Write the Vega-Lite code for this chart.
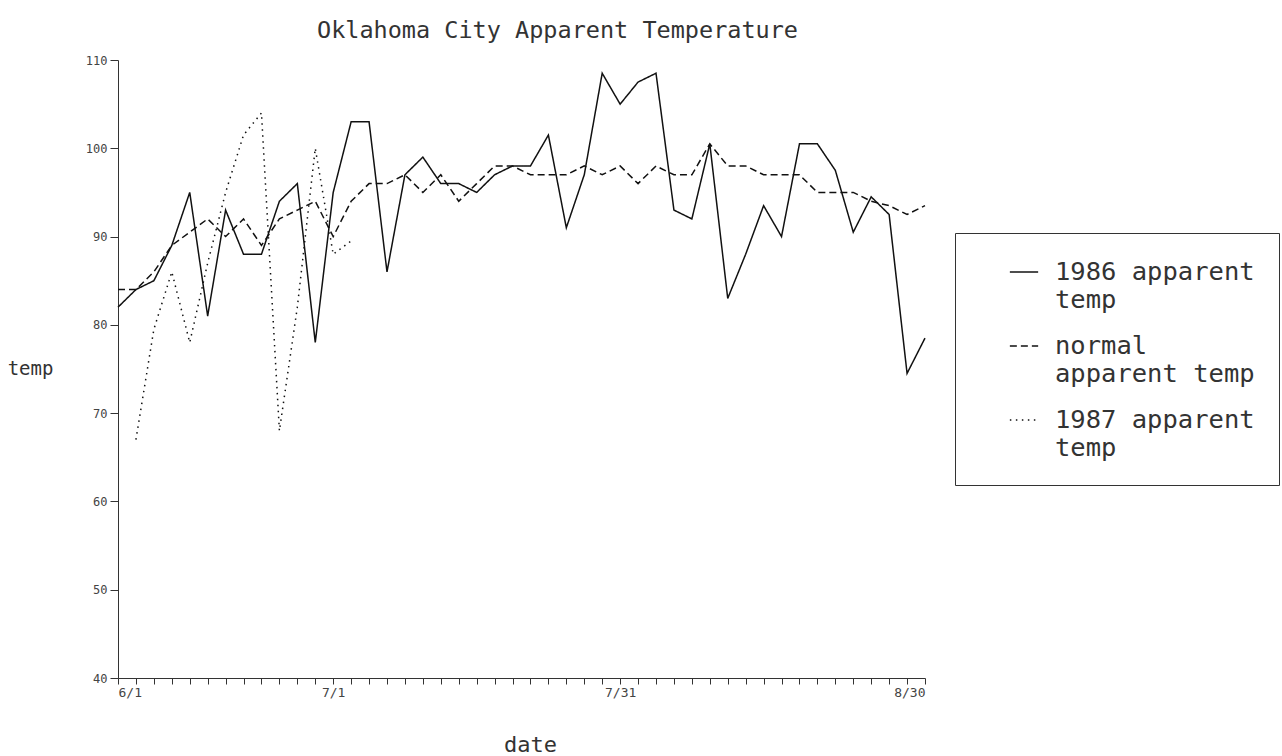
{
  "$schema": "https://vega.github.io/schema/vega-lite/v6.json",
  "width": 807,
  "height": 618,
  "autosize": {"type": "none"},
  "padding": {"left": 118, "top": 60, "right": 357, "bottom": 78},
  "background": "white",
  "title": {
    "text": "Oklahoma City Apparent Temperature",
    "font": "DejaVu Sans Mono",
    "fontSize": 23.5,
    "fontWeight": "normal",
    "color": "#333",
    "anchor": "middle",
    "dx": 36,
    "offset": 12
  },
  "config": {
    "view": {"stroke": null},
    "axis": {
      "grid": false,
      "domainColor": "#333",
      "tickColor": "#333",
      "labelColor": "#444",
      "titleColor": "#333",
      "labelFont": "DejaVu Sans Mono",
      "titleFont": "DejaVu Sans Mono",
      "titleFontWeight": "normal"
    }
  },
  "datasets": {
    "temps": [
      {"i": 0, "s": "1986 apparent temp", "v": 82},
      {"i": 1, "s": "1986 apparent temp", "v": 84},
      {"i": 2, "s": "1986 apparent temp", "v": 85},
      {"i": 3, "s": "1986 apparent temp", "v": 89},
      {"i": 4, "s": "1986 apparent temp", "v": 95},
      {"i": 5, "s": "1986 apparent temp", "v": 81},
      {"i": 6, "s": "1986 apparent temp", "v": 93},
      {"i": 7, "s": "1986 apparent temp", "v": 88},
      {"i": 8, "s": "1986 apparent temp", "v": 88},
      {"i": 9, "s": "1986 apparent temp", "v": 94},
      {"i": 10, "s": "1986 apparent temp", "v": 96},
      {"i": 11, "s": "1986 apparent temp", "v": 78},
      {"i": 12, "s": "1986 apparent temp", "v": 95},
      {"i": 13, "s": "1986 apparent temp", "v": 103},
      {"i": 14, "s": "1986 apparent temp", "v": 103},
      {"i": 15, "s": "1986 apparent temp", "v": 86},
      {"i": 16, "s": "1986 apparent temp", "v": 97},
      {"i": 17, "s": "1986 apparent temp", "v": 99},
      {"i": 18, "s": "1986 apparent temp", "v": 96},
      {"i": 19, "s": "1986 apparent temp", "v": 96},
      {"i": 20, "s": "1986 apparent temp", "v": 95},
      {"i": 21, "s": "1986 apparent temp", "v": 97},
      {"i": 22, "s": "1986 apparent temp", "v": 98},
      {"i": 23, "s": "1986 apparent temp", "v": 98},
      {"i": 24, "s": "1986 apparent temp", "v": 101.5},
      {"i": 25, "s": "1986 apparent temp", "v": 91},
      {"i": 26, "s": "1986 apparent temp", "v": 97},
      {"i": 27, "s": "1986 apparent temp", "v": 108.5},
      {"i": 28, "s": "1986 apparent temp", "v": 105},
      {"i": 29, "s": "1986 apparent temp", "v": 107.5},
      {"i": 30, "s": "1986 apparent temp", "v": 108.5},
      {"i": 31, "s": "1986 apparent temp", "v": 93},
      {"i": 32, "s": "1986 apparent temp", "v": 92},
      {"i": 33, "s": "1986 apparent temp", "v": 100.5},
      {"i": 34, "s": "1986 apparent temp", "v": 83},
      {"i": 35, "s": "1986 apparent temp", "v": 88},
      {"i": 36, "s": "1986 apparent temp", "v": 93.5},
      {"i": 37, "s": "1986 apparent temp", "v": 90},
      {"i": 38, "s": "1986 apparent temp", "v": 100.5},
      {"i": 39, "s": "1986 apparent temp", "v": 100.5},
      {"i": 40, "s": "1986 apparent temp", "v": 97.5},
      {"i": 41, "s": "1986 apparent temp", "v": 90.5},
      {"i": 42, "s": "1986 apparent temp", "v": 94.5},
      {"i": 43, "s": "1986 apparent temp", "v": 92.5},
      {"i": 44, "s": "1986 apparent temp", "v": 74.5},
      {"i": 45, "s": "1986 apparent temp", "v": 78.5},
      {"i": 0, "s": "normal apparent temp", "v": 84},
      {"i": 1, "s": "normal apparent temp", "v": 84},
      {"i": 2, "s": "normal apparent temp", "v": 86},
      {"i": 3, "s": "normal apparent temp", "v": 89},
      {"i": 4, "s": "normal apparent temp", "v": 90.5},
      {"i": 5, "s": "normal apparent temp", "v": 92},
      {"i": 6, "s": "normal apparent temp", "v": 90},
      {"i": 7, "s": "normal apparent temp", "v": 92},
      {"i": 8, "s": "normal apparent temp", "v": 89},
      {"i": 9, "s": "normal apparent temp", "v": 92},
      {"i": 10, "s": "normal apparent temp", "v": 93},
      {"i": 11, "s": "normal apparent temp", "v": 94},
      {"i": 12, "s": "normal apparent temp", "v": 90},
      {"i": 13, "s": "normal apparent temp", "v": 94},
      {"i": 14, "s": "normal apparent temp", "v": 96},
      {"i": 15, "s": "normal apparent temp", "v": 96},
      {"i": 16, "s": "normal apparent temp", "v": 97},
      {"i": 17, "s": "normal apparent temp", "v": 95},
      {"i": 18, "s": "normal apparent temp", "v": 97},
      {"i": 19, "s": "normal apparent temp", "v": 94},
      {"i": 20, "s": "normal apparent temp", "v": 96},
      {"i": 21, "s": "normal apparent temp", "v": 98},
      {"i": 22, "s": "normal apparent temp", "v": 98},
      {"i": 23, "s": "normal apparent temp", "v": 97},
      {"i": 24, "s": "normal apparent temp", "v": 97},
      {"i": 25, "s": "normal apparent temp", "v": 97},
      {"i": 26, "s": "normal apparent temp", "v": 98},
      {"i": 27, "s": "normal apparent temp", "v": 97},
      {"i": 28, "s": "normal apparent temp", "v": 98},
      {"i": 29, "s": "normal apparent temp", "v": 96},
      {"i": 30, "s": "normal apparent temp", "v": 98},
      {"i": 31, "s": "normal apparent temp", "v": 97},
      {"i": 32, "s": "normal apparent temp", "v": 97},
      {"i": 33, "s": "normal apparent temp", "v": 100.5},
      {"i": 34, "s": "normal apparent temp", "v": 98},
      {"i": 35, "s": "normal apparent temp", "v": 98},
      {"i": 36, "s": "normal apparent temp", "v": 97},
      {"i": 37, "s": "normal apparent temp", "v": 97},
      {"i": 38, "s": "normal apparent temp", "v": 97},
      {"i": 39, "s": "normal apparent temp", "v": 95},
      {"i": 40, "s": "normal apparent temp", "v": 95},
      {"i": 41, "s": "normal apparent temp", "v": 95},
      {"i": 42, "s": "normal apparent temp", "v": 94},
      {"i": 43, "s": "normal apparent temp", "v": 93.5},
      {"i": 44, "s": "normal apparent temp", "v": 92.5},
      {"i": 45, "s": "normal apparent temp", "v": 93.5},
      {"i": 1, "s": "1987 apparent temp", "v": 67},
      {"i": 2, "s": "1987 apparent temp", "v": 79.5},
      {"i": 3, "s": "1987 apparent temp", "v": 86},
      {"i": 4, "s": "1987 apparent temp", "v": 78},
      {"i": 5, "s": "1987 apparent temp", "v": 87},
      {"i": 6, "s": "1987 apparent temp", "v": 95},
      {"i": 7, "s": "1987 apparent temp", "v": 101.5},
      {"i": 8, "s": "1987 apparent temp", "v": 104},
      {"i": 9, "s": "1987 apparent temp", "v": 68},
      {"i": 10, "s": "1987 apparent temp", "v": 82},
      {"i": 11, "s": "1987 apparent temp", "v": 100},
      {"i": 12, "s": "1987 apparent temp", "v": 88},
      {"i": 13, "s": "1987 apparent temp", "v": 89.5}
    ]
  },
  "data": {"name": "temps"},
  "mark": {"type": "line", "strokeWidth": 1.5, "color": "#111", "strokeCap": "butt"},
  "encoding": {
    "x": {
      "field": "i",
      "type": "quantitative",
      "scale": {"domain": [0, 45], "nice": false, "zero": false},
      "axis": {
        "values": [0,1,2,3,4,5,6,7,8,9,10,11,12,13,14,15,16,17,18,19,20,21,22,23,24,25,26,27,28,29,30,31,32,33,34,35,36,37,38,39,40,41,42,43,44,45],
        "labelExpr": "datum.value == 0 ? '6/1' : datum.value == 12 ? '7/1' : datum.value == 28 ? '7/31' : datum.value == 45 ? '8/30' : ''",
        "labelOverlap": false,
        "labelFontSize": 13,
        "labelPadding": 2,
        "tickSize": 6,
        "title": "date",
        "titleFontSize": 22,
        "titleX": 412,
        "titleY": 66,
        "titleBaseline": "middle"
      }
    },
    "y": {
      "field": "v",
      "type": "quantitative",
      "scale": {"domain": [40, 110], "nice": false, "zero": false},
      "axis": {
        "values": [40, 50, 60, 70, 80, 90, 100, 110],
        "labelFontSize": 12,
        "tickSize": 8,
        "labelPadding": 3,
        "title": "temp",
        "titleAngle": 0,
        "titleFontSize": 19,
        "titleX": -88,
        "titleY": 308,
        "titleAlign": "center",
        "titleBaseline": "middle"
      }
    },
    "strokeDash": {
      "field": "s",
      "type": "nominal",
      "scale": {
        "domain": ["1986 apparent temp", "normal apparent temp", "1987 apparent temp"],
        "range": [[1, 0], [7, 4], [1.5, 4.5]]
      },
      "legend": {
        "title": null,
        "orient": "none",
        "legendX": 837,
        "legendY": 173,
        "strokeColor": "#333",
        "fillColor": "white",
        "padding": 24,
        "rowPadding": 18,
        "symbolType": "stroke",
        "symbolSize": 800,
        "symbolOffset": 30,
        "symbolStrokeWidth": 1.5,
        "symbolStrokeColor": "#111",
        "labelFont": "DejaVu Sans Mono",
        "labelFontSize": 25.5,
        "labelColor": "#333",
        "labelLimit": 400,
        "labelOffset": 16,
        "labelExpr": "datum.label == '1986 apparent temp' ? ['1986 apparent', 'temp'] : datum.label == 'normal apparent temp' ? ['normal', 'apparent temp'] : ['1987 apparent', 'temp']"
      }
    }
  }
}
